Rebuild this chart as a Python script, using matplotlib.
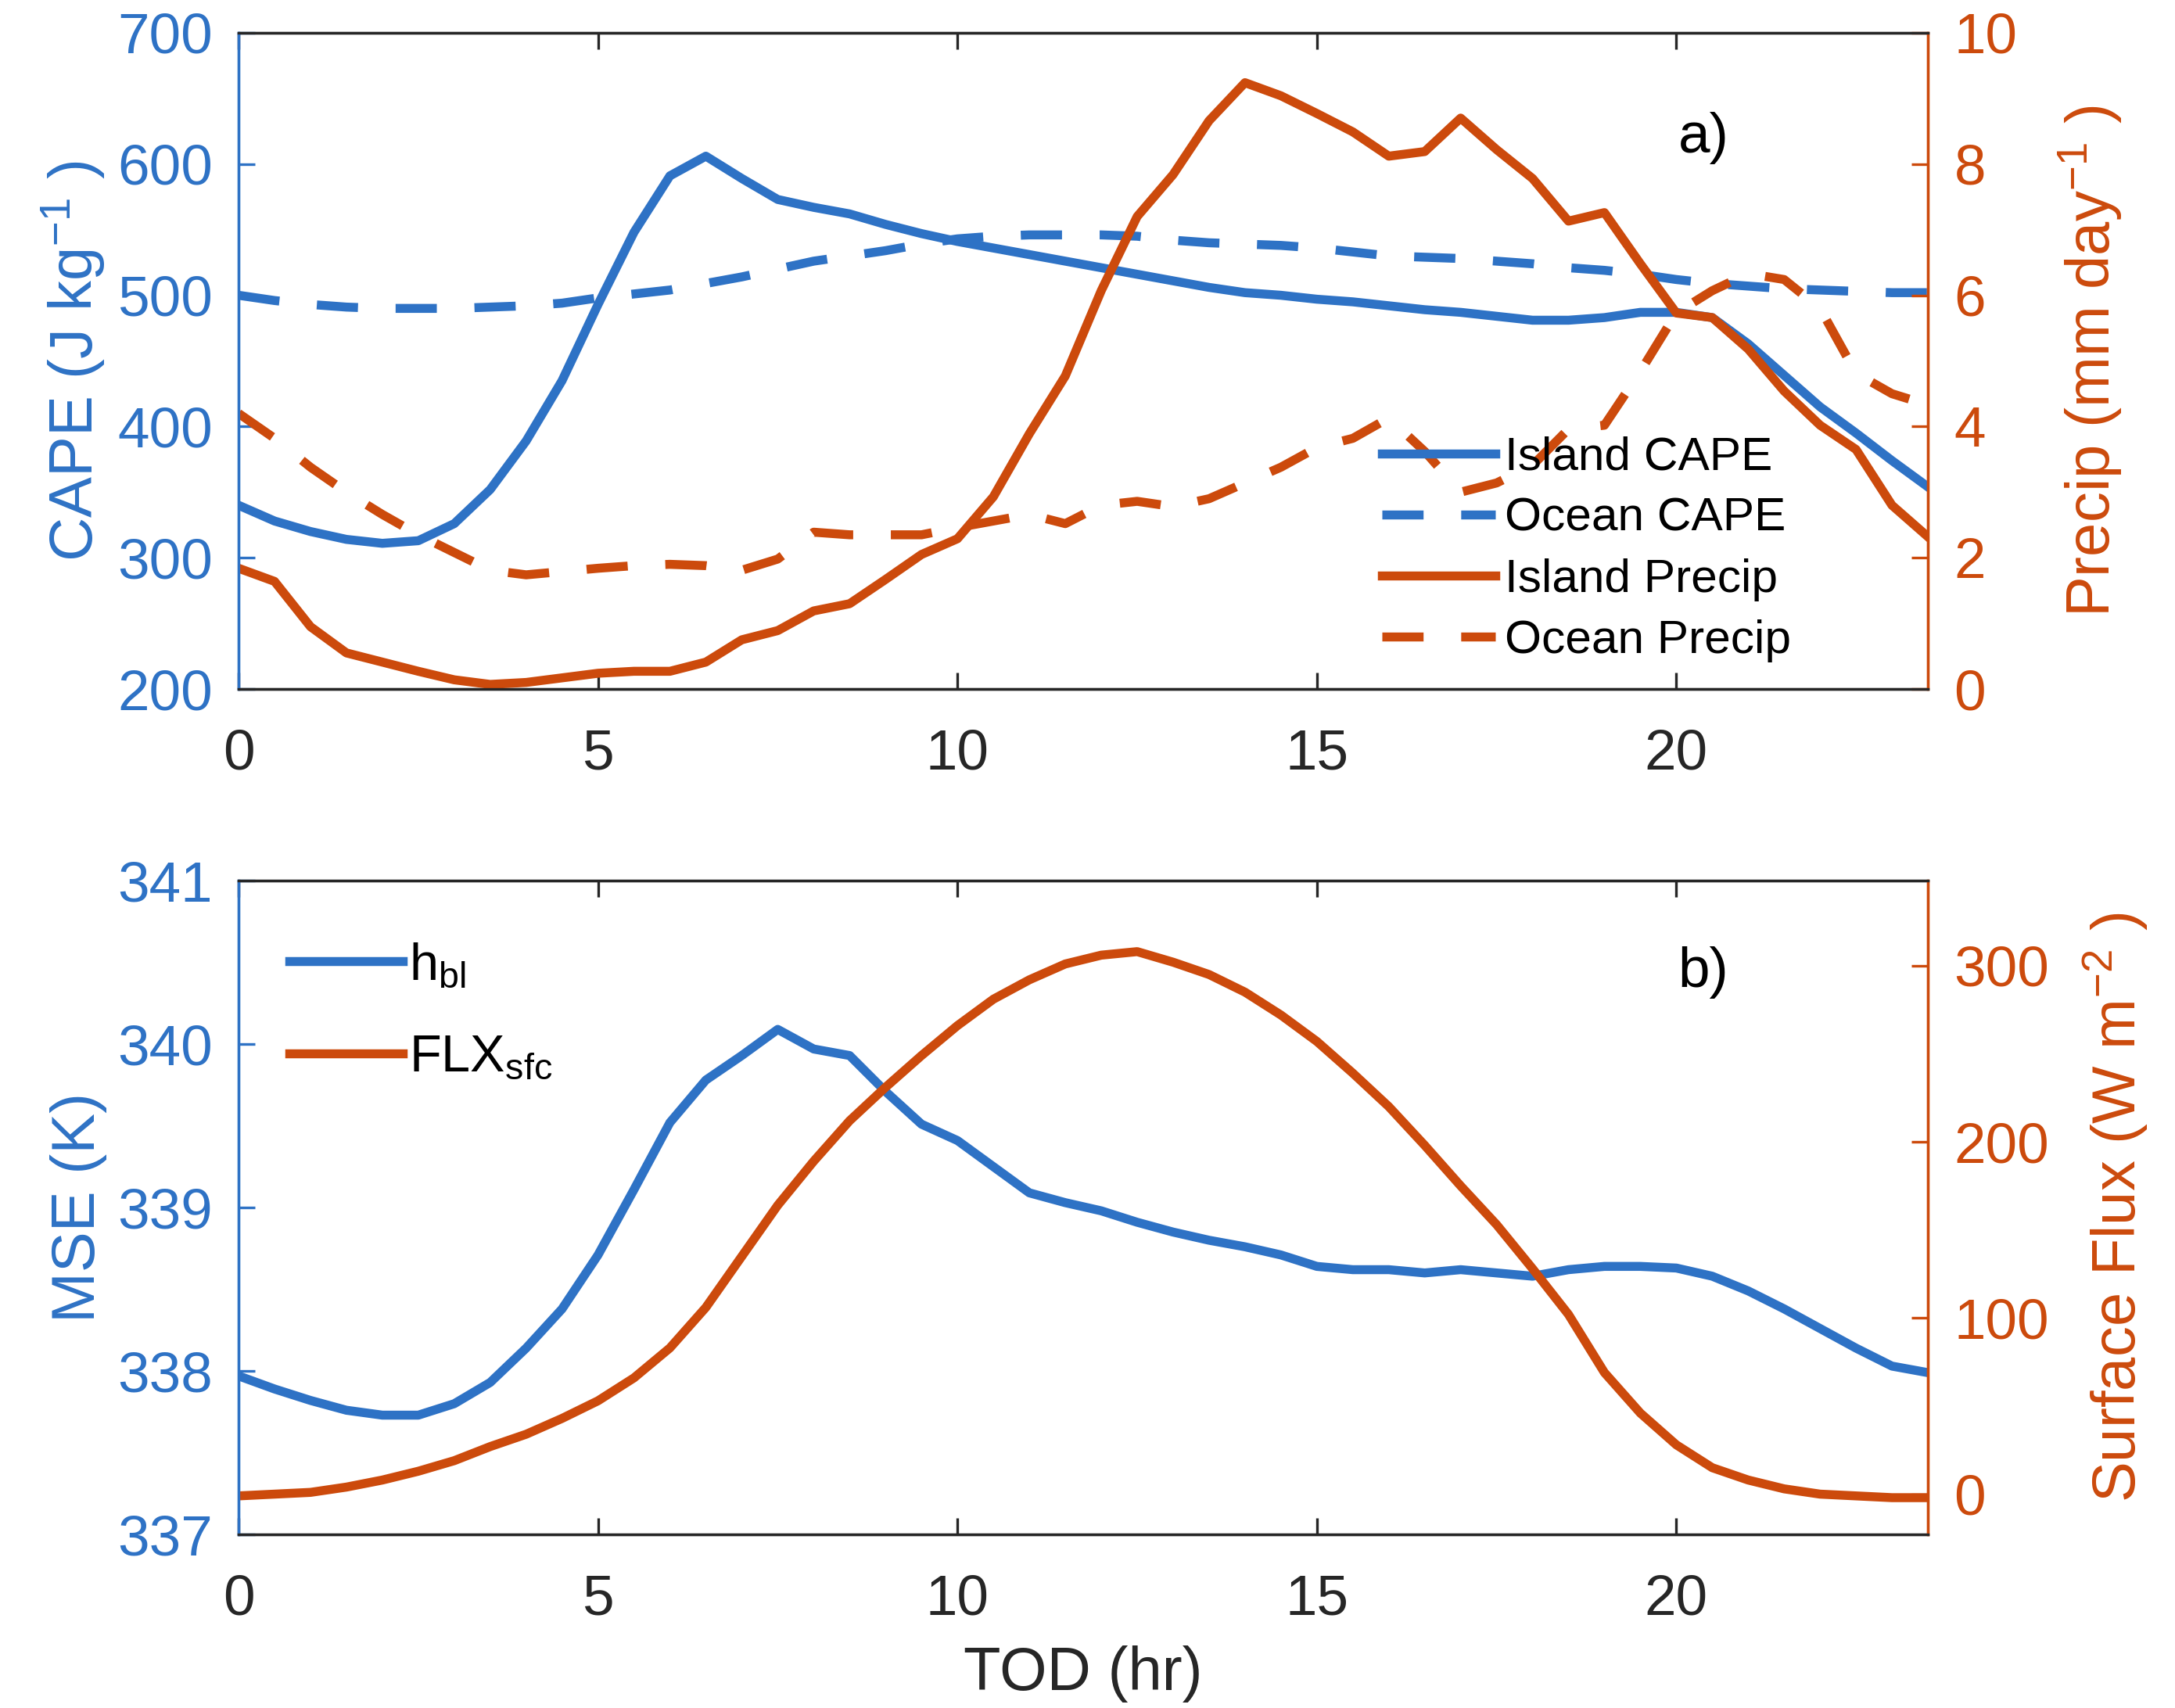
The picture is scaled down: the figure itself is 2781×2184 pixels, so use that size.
import numpy as np
import matplotlib
matplotlib.use("Agg")
import matplotlib.pyplot as plt

plt.rcParams['font.family'] = ['Liberation Sans', 'DejaVu Sans']
plt.rcParams['mathtext.fontset'] = 'custom'
plt.rcParams['mathtext.rm'] = 'Liberation Sans'
plt.rcParams['mathtext.it'] = 'Liberation Sans:italic'
plt.rcParams['axes.unicode_minus'] = False

BLUE = '#2e72c5'
ORANGE = '#cc4a0c'
DARK = '#262626'

# time of day, half-hourly
tod = np.arange(0, 24, 0.5)

island_cape = [340, 328, 320, 314, 311, 313, 326, 352, 389, 435, 493, 548,
               591, 606, 589, 573, 567, 562, 554, 547, 541, 536, 531, 526,
               521, 516, 511, 506, 502, 500, 497, 495, 492, 489, 487, 484,
               481, 481, 483, 487, 487, 483, 463, 439, 415, 395, 374, 354]
ocean_cape = [500, 496, 493, 491, 490, 490, 490, 491, 492, 494, 498, 501,
              504, 509, 514, 520, 526, 530, 534, 539, 543, 545, 546, 546,
              546, 545, 542, 540, 539, 538, 536, 533, 530, 529, 528, 526,
              524, 521, 519, 516, 512, 509, 507, 505, 504, 503, 502, 502]
island_precip = [1.84, 1.64, 0.95, 0.55, 0.41, 0.27, 0.14, 0.07, 0.10, 0.17, 0.24, 0.27,
                 0.27, 0.41, 0.75, 0.89, 1.19, 1.30, 1.67, 2.05, 2.29, 2.93, 3.89, 4.77,
                 6.07, 7.20, 7.84, 8.66, 9.24, 9.04, 8.77, 8.49, 8.12, 8.19, 8.70, 8.22,
                 7.78, 7.13, 7.26, 6.48, 5.73, 5.66, 5.18, 4.54, 4.02, 3.65, 2.80, 2.32]
ocean_precip = [4.20, 3.82, 3.38, 3.00, 2.66, 2.35, 2.08, 1.81, 1.74, 1.79, 1.84, 1.88,
                1.90, 1.88, 1.81, 1.98, 2.39, 2.35, 2.35, 2.35, 2.46, 2.56, 2.66, 2.52,
                2.80, 2.86, 2.78, 2.90, 3.14, 3.38, 3.68, 3.82, 4.13, 3.62, 3.00, 3.14,
                3.41, 3.96, 4.02, 4.84, 5.73, 6.07, 6.33, 6.24, 5.80, 4.81, 4.50, 4.33]

h_bl = [337.97, 337.89, 337.82, 337.76, 337.73, 337.73, 337.80, 337.93, 338.14, 338.38,
        338.71, 339.11, 339.52, 339.78, 339.93, 340.09, 339.97, 339.93, 339.71, 339.51,
        339.41, 339.25, 339.09, 339.03, 338.98, 338.91, 338.85, 338.80, 338.76, 338.71,
        338.64, 338.62, 338.62, 338.60, 338.62, 338.60, 338.58, 338.62, 338.64, 338.64,
        338.63, 338.58, 338.49, 338.38, 338.26, 338.14, 338.03, 337.99]
flx_sfc = [-1, 0, 1, 4, 8, 13, 19, 27, 34, 43, 53, 66, 83, 106, 135, 164, 189, 212,
           231, 249, 266, 281, 292, 301, 306, 308, 302, 295, 285, 272, 257, 239, 220,
           198, 175, 153, 128, 102, 69, 46, 28, 15, 8, 3, 0, -1, -2, -2]

xticks = [0, 5, 10, 15, 20]
LW = 2.75
DASH = (0, (4.6, 4.2))
TICK_FS = 17.5
LABEL_FS = 18.7
LEG_FS = 14.5

fig = plt.figure(figsize=(9.27, 7.28), dpi=300)
ax1 = fig.add_axes([0.1097, 0.5966, 0.7767, 0.3842])
ax3 = fig.add_axes([0.1097, 0.1016, 0.7767, 0.3828])


def style_pair(ax, axr):
    ax.set_xlim(0, 23.5)
    ax.set_xticks(xticks)
    ax.tick_params(axis='x', direction='in', top=True, length=5, width=0.8,
                   colors=DARK, labelsize=TICK_FS, pad=12)
    ax.tick_params(axis='y', direction='in', length=5, width=0.8,
                   colors=BLUE, labelsize=TICK_FS, pad=8)
    axr.tick_params(axis='y', direction='in', length=5, width=0.8,
                    colors=ORANGE, labelsize=TICK_FS, pad=8)
    for a in (ax, axr):
        a.spines['top'].set_color(DARK)
        a.spines['bottom'].set_color(DARK)
        a.spines['left'].set_color(BLUE)
        a.spines['right'].set_color(ORANGE)
        for s in a.spines.values():
            s.set_linewidth(0.8)


# panel a
ax2 = ax1.twinx()
l1, = ax1.plot(tod, island_cape, color=BLUE, lw=LW, label='Island CAPE')
l2, = ax1.plot(tod, ocean_cape, color=BLUE, lw=LW, linestyle=DASH, label='Ocean CAPE')
l3, = ax2.plot(tod, island_precip, color=ORANGE, lw=LW, label='Island Precip')
l4, = ax2.plot(tod, ocean_precip, color=ORANGE, lw=LW, linestyle=DASH, label='Ocean Precip')
ax1.set_ylim(200, 700)
ax2.set_ylim(0, 10)
ax1.set_yticks([200, 300, 400, 500, 600, 700])
ax2.set_yticks([0, 2, 4, 6, 8, 10])
style_pair(ax1, ax2)
ax1.set_ylabel('CAPE (J kg$^{\\mathregular{-1}}$ )', color=BLUE, fontsize=LABEL_FS, labelpad=3)
ax2.set_ylabel('Precip (mm day$^{\\mathregular{-1}}$ )', color=ORANGE, fontsize=LABEL_FS, labelpad=12)
ax1.text(0.852, 0.84, 'a)', transform=ax1.transAxes, fontsize=TICK_FS, color='k', va='center')
ax2.legend(handles=[l1, l2, l3, l4], loc='upper left', bbox_to_anchor=(0.677, 0.385),
           frameon=False, fontsize=LEG_FS, handlelength=2.4, handletextpad=0.2,
           labelspacing=0.38, borderpad=0, borderaxespad=0)

# panel b
ax4 = ax3.twinx()
l5, = ax3.plot(tod, h_bl, color=BLUE, lw=LW, label='h$_{\\mathregular{bl}}$')
l6, = ax4.plot(tod, flx_sfc, color=ORANGE, lw=LW, label='FLX$_{\\mathregular{sfc}}$')
ax3.set_ylim(337, 341)
ax4.set_ylim(-22.9, 348.3)
ax3.set_yticks([337, 338, 339, 340, 341])
ax4.set_yticks([0, 100, 200, 300])
style_pair(ax3, ax4)
ax3.set_ylabel('MSE (K)', color=BLUE, fontsize=LABEL_FS, labelpad=3)
ax4.set_ylabel('Surface Flux (W m$^{\\mathregular{-2}}$ )', color=ORANGE, fontsize=LABEL_FS, labelpad=10)
ax3.set_xlabel('TOD (hr)', color=DARK, fontsize=LABEL_FS, labelpad=6)
ax3.text(0.852, 0.859, 'b)', transform=ax3.transAxes, fontsize=TICK_FS, color='k', va='center')
ax4.legend(handles=[l5, l6], loc='upper left', bbox_to_anchor=(0.03, 0.906),
           frameon=False, fontsize=LEG_FS + 1.5, handlelength=2.17, handletextpad=0.12,
           labelspacing=0.83, borderpad=0, borderaxespad=0)

fig.savefig('out.png', dpi=300)
